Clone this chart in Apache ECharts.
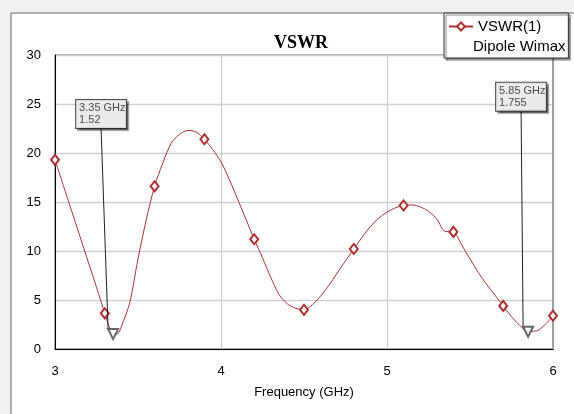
<!DOCTYPE html>
<html>
<head>
<meta charset="utf-8">
<script src="https://cdn.jsdelivr.net/npm/echarts@6/dist/echarts.min.js"></script>
<style>
html,body{margin:0;padding:0;background:#f0f0f0;}
#chart{width:574px;height:414px;}
</style>
</head>
<body>
<div id="chart"></div>
<script>
// Frequency samples (GHz) and VSWR values
const freq = [3.00,3.05,3.10,3.15,3.20,3.25,3.30,3.33,3.35,3.38,3.40,3.45,3.50,3.55,3.60,3.65,3.70,3.75,3.80,3.85,3.90,3.95,4.00,4.05,4.10,4.15,4.20,4.25,4.30,4.35,4.40,4.45,4.50,4.55,4.60,4.65,4.70,4.75,4.80,4.85,4.90,4.95,5.00,5.05,5.10,5.15,5.20,5.25,5.30,5.35,5.40,5.45,5.50,5.55,5.60,5.65,5.70,5.75,5.80,5.85,5.90,5.95,6.00];
const vswr = [19.3,16.7,14.1,11.5,8.9,6.3,3.64,2.1,1.52,1.6,2.3,4.7,9.2,13.2,16.6,19.0,21.0,21.9,22.3,22.15,21.4,20.35,19.1,17.3,15.3,13.25,11.2,9.3,7.3,5.55,4.6,4.15,4.0,4.5,5.4,6.5,7.75,9.0,10.2,11.4,12.5,13.35,13.95,14.4,14.65,14.7,14.5,14.05,13.25,12.0,11.95,10.6,9.2,7.8,6.6,5.5,4.4,3.3,2.4,1.8,1.85,2.45,3.4];
// Frequencies carrying the diamond series markers
const diamondFreq = [3.0,3.3,3.6,3.9,4.2,4.5,4.8,5.1,5.4,5.7,6.0];
// Marker annotations
const mkFreq = [3.35, 5.85];
const mkVswr = [1.52, 1.755];
const mkText = ['3.35 GHz', '5.85 GHz'];
const mkVal = ['1.52', '1.755'];
// Axis ticks
const xTicks = [3, 4, 5, 6];
const yTicks = [0, 5, 10, 15, 20, 25, 30];

const chart = echarts.init(document.getElementById('chart'));
const red = '#b03030';
const font = 'Arial, "Liberation Sans", sans-serif';

const lineData = freq.map((f, i) => {
  const isD = diamondFreq.some(d => Math.abs(d - f) < 1e-6);
  return isD ? {value: [f, vswr[i]], symbol: 'emptyDiamond', symbolSize: [8, 10]}
             : {value: [f, vswr[i]], symbol: 'none'};
});
const mkData = mkFreq.map((f, i) => [f, mkVswr[i]]);
const labelOffsets = [[-12, -220], [-7, -235]];

chart.setOption({
  backgroundColor: '#f0f0f0',
  animation: false,
  title: {
    text: 'VSWR', left: 274, top: 34, padding: 0,
    textStyle: {fontFamily: '"Liberation Serif", "Times New Roman", serif', fontWeight: 'bold', fontSize: 18, color: '#000'}
  },
  legend: {
    data: ['VSWR(1)'], left: 444, top: 13,
    itemWidth: 24, itemHeight: 10, itemGap: 5,
    textStyle: {fontFamily: font, fontSize: 15, color: '#000'},
    backgroundColor: '#fff', borderColor: '#333', borderWidth: 1,
    padding: [6, 27, 24, 4],
    shadowColor: 'rgba(0,0,0,0.5)', shadowOffsetX: 2, shadowOffsetY: 2, shadowBlur: 1
  },
  graphic: [
    {type: 'rect', z: -100, shape: {x: 11, y: 13, width: 620, height: 460},
     style: {fill: '#fff', stroke: '#666', lineWidth: 1}},
    {type: 'text', z: 100, x: 473, y: 47,
     style: {text: 'Dipole Wimax', fontFamily: font, fontSize: 15, fill: '#000', verticalAlign: 'middle'}}
  ],
  grid: {left: 55, right: 21, top: 55, bottom: 65, show: true, borderColor: '#555', borderWidth: 1, backgroundColor: 'transparent'},
  xAxis: {
    type: 'value', min: xTicks[0], max: xTicks[xTicks.length - 1], interval: 1,
    name: 'Frequency (GHz)', nameLocation: 'middle', nameGap: 37,
    nameTextStyle: {fontFamily: font, fontSize: 13, color: '#000'},
    axisLine: {show: true, lineStyle: {color: '#000', width: 1}},
    axisTick: {show: false},
    axisLabel: {fontFamily: font, fontSize: 13, color: '#000', margin: 16},
    splitLine: {show: true, lineStyle: {color: '#d0d0d0', width: 1.3}}
  },
  yAxis: [{
    type: 'value', min: yTicks[0], max: yTicks[yTicks.length - 1], interval: 5,
    axisLine: {show: true, lineStyle: {color: '#000', width: 1}},
    axisTick: {show: false},
    axisLabel: {fontFamily: font, fontSize: 13, color: '#000', margin: 14},
    splitLine: {show: true, lineStyle: {color: '#d0d0d0', width: 1.3}}
  }, {
    type: 'value', position: 'right', min: 0, max: 30, interval: 5,
    axisLine: {show: true, lineStyle: {color: '#a0a0a0', width: 2}},
    axisTick: {show: false}, axisLabel: {show: false}, splitLine: {show: false}
  }],
  series: [{
    name: 'VSWR(1)', type: 'line', data: lineData,
    smooth: 0.3, showSymbol: true, showAllSymbol: true,
    symbol: 'emptyDiamond', symbolSize: 8,
    lineStyle: {color: red, width: 1},
    itemStyle: {color: red, borderColor: red, borderWidth: 0.8},
    z: 3
  }, {
    name: 'markers', type: 'scatter', data: mkData,
    symbol: 'emptyTriangle', symbolRotate: 180, symbolSize: 10,
    itemStyle: {color: '#444', borderColor: '#444', borderWidth: 1},
    z: 5,
    label: {
      show: true, position: 'inside',
      formatter: p => '{a|' + mkText[p.dataIndex] + '}\n{a|' + mkVal[p.dataIndex] + '}',
      rich: {a: {width: 44, align: 'left', fontFamily: font, fontSize: 11, color: '#222', lineHeight: 12}},
      backgroundColor: '#fff', borderColor: '#222', borderWidth: 1, padding: [2, 3, 2, 3],
      shadowColor: 'rgba(0,0,0,0.5)', shadowOffsetX: 2, shadowOffsetY: 2, shadowBlur: 1
    },
    labelLine: {show: true, lineStyle: {color: '#222', width: 1}},
    labelLayout: p => ({dx: labelOffsets[p.dataIndex][0], dy: labelOffsets[p.dataIndex][1]})
  }]
});
</script>
</body>
</html>
